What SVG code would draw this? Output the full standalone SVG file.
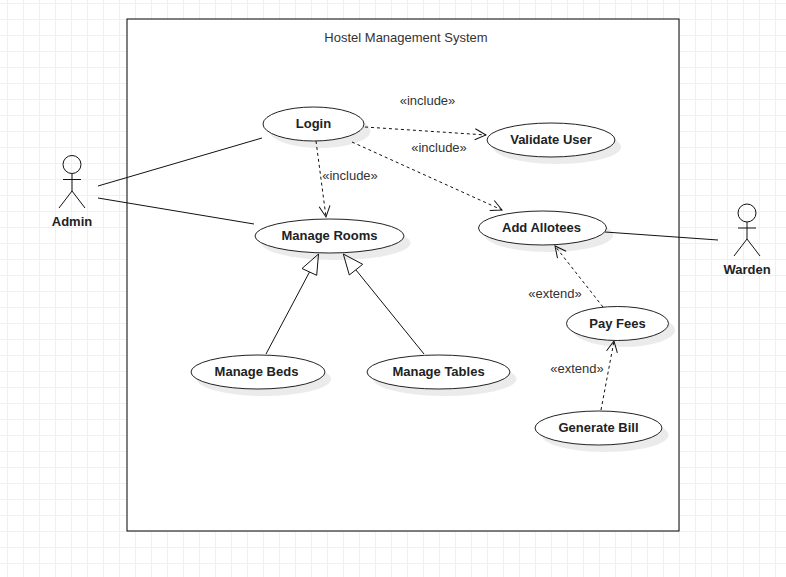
<svg xmlns="http://www.w3.org/2000/svg" width="786" height="577" viewBox="0 0 786 577">
<style>
text{font-family:"Liberation Sans",Arial,sans-serif;font-size:13px;text-anchor:middle;fill:#333}
.b{font-weight:bold;font-size:13px;fill:#222}
.u{fill:#fff;stroke:#222;stroke-width:1}
.s{fill:#000;fill-opacity:.08;stroke:none}
.l{fill:none;stroke:#111;stroke-width:1}
.d{stroke-dasharray:3 3}
</style>
<defs>
<pattern id="grid" width="16" height="16" patternUnits="userSpaceOnUse" x="7" y="3">
<path d="M.5 0V16M0 .5H16" fill="none" stroke="#f0f0f0" stroke-width="1"/>
</pattern>
<marker id="open" markerUnits="userSpaceOnUse" viewBox="0 0 14 14" refX="13" refY="7" markerWidth="14" markerHeight="14" orient="auto">
<path d="M2 1.500L13 7L2 12.500" fill="none" stroke="#111" stroke-width="1"/>
</marker>
</defs>
<rect width="786" height="577" fill="#fff"/>
<rect width="786" height="577" fill="url(#grid)"/>
<g id="system">
<rect x="127" y="19" width="552" height="512" fill="#fff" stroke="#000" stroke-width="1"/>
<text x="406" y="42">Hostel Management System</text>
</g>
<g id="connectors">
<path class="l" d="M98 186L262 138"/>
<path class="l" d="M98 198L254 224"/>
<path class="l" d="M605 232L718 240"/>
<path class="l d" marker-end="url(#open)" d="M365 127L486 135"/>
<path class="l d" marker-end="url(#open)" d="M352 142L502 210"/>
<path class="l d" marker-end="url(#open)" d="M316 141L326 217"/>
<path class="l d" marker-end="url(#open)" d="M603 307L555 246"/>
<path class="l d" marker-end="url(#open)" d="M601 410L614 341"/>
<path class="l" d="M266 354L309.500 272"/>
<path class="l" d="M424 354L356 270"/>
<path d="M318.500 254L302 268.500L316.700 275.300Z" fill="#fff" stroke="#111" stroke-width="1"/>
<path d="M343.300 254L362.700 264.300L349.300 275Z" fill="#fff" stroke="#111" stroke-width="1"/>
<text x="427.500" y="105">«include»</text>
<text x="439" y="152">«include»</text>
<text x="350" y="180">«include»</text>
<text x="555" y="298">«extend»</text>
<text x="577" y="373">«extend»</text>
</g>
<g id="login"><ellipse class="s" cx="320" cy="131" rx="50.500" ry="17"/><ellipse class="u" cx="313.500" cy="124" rx="50.500" ry="17"/><text class="b" x="313.500" y="128">Login</text></g>
<g id="validate"><ellipse class="s" cx="557" cy="147" rx="64" ry="17"/><ellipse class="u" cx="551" cy="140" rx="64" ry="17"/><text class="b" x="551" y="144">Validate User</text></g>
<g id="rooms"><ellipse class="s" cx="336" cy="243" rx="74.500" ry="17"/><ellipse class="u" cx="329.500" cy="236" rx="74.500" ry="17"/><text class="b" x="329.500" y="240">Manage Rooms</text></g>
<g id="allotees"><ellipse class="s" cx="549" cy="235" rx="64" ry="17"/><ellipse class="u" cx="542.500" cy="228" rx="64" ry="17"/><text class="b" x="541.500" y="232">Add Allotees</text></g>
<g id="fees"><ellipse class="s" cx="624" cy="330" rx="51" ry="17"/><ellipse class="u" cx="617.500" cy="323.500" rx="51" ry="17"/><text class="b" x="617.500" y="328">Pay Fees</text></g>
<g id="beds"><ellipse class="s" cx="264" cy="379" rx="67" ry="17"/><ellipse class="u" cx="258" cy="372" rx="67" ry="17"/><text class="b" x="256.500" y="376">Manage Beds</text></g>
<g id="tables"><ellipse class="s" cx="445" cy="379" rx="71.500" ry="17"/><ellipse class="u" cx="438.500" cy="372" rx="71.500" ry="17"/><text class="b" x="438.500" y="376">Manage Tables</text></g>
<g id="bill"><ellipse class="s" cx="605" cy="435" rx="63.500" ry="17"/><ellipse class="u" cx="598.500" cy="428" rx="63.500" ry="17"/><text class="b" x="598.500" y="432">Generate Bill</text></g>
<g id="admin"><circle class="l" cx="72" cy="164.500" r="9"/><path class="l" d="M72 174V191M63 179.500H81M72 191L59 208M72 191L85 208"/><text class="b" x="72" y="226">Admin</text></g>
<g id="warden"><circle class="l" cx="747" cy="213" r="9"/><path class="l" d="M747 222V239M738 228H756M747 239L734 256M747 239L760 256"/><text class="b" x="747" y="274">Warden</text></g>
</svg>
